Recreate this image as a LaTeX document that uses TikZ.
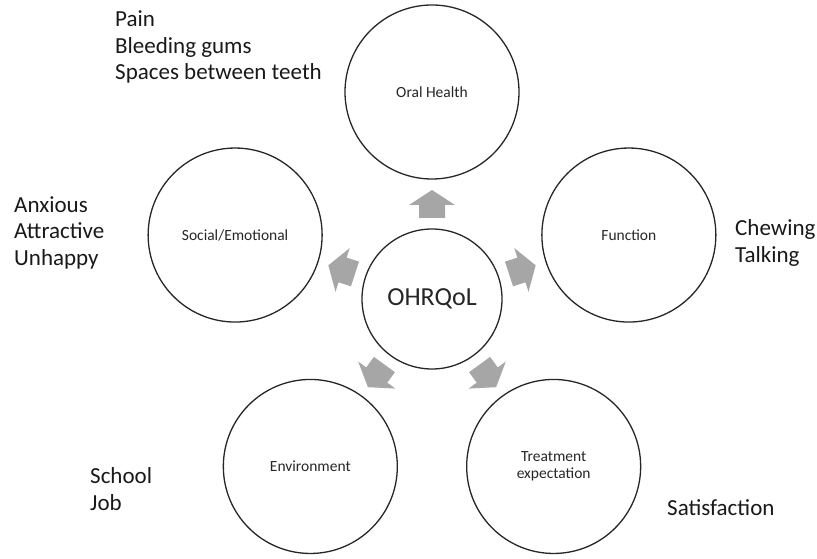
\documentclass[tikz,border=0pt]{standalone}
\usepackage{fontspec}
\setmainfont{Carlito}
\usetikzlibrary{calc}
\begin{document}
\begin{tikzpicture}[x=1pt,y=1pt,
  bigc/.style={circle, draw=black!85, line width=1.3pt, minimum size=174pt, inner sep=0pt, align=center, font=\fontsize{15.5}{17}\selectfont, text=black!85},
  hub/.style={circle, draw=black!85, line width=1.3pt, minimum size=140pt, inner sep=0pt, font=\fontsize{26}{30}\selectfont, text=black!85},
  side/.style={anchor=base west, inner sep=0pt, align=left, font=\fontsize{23}{26.5}\selectfont, text=black!90},
  blockarrow/.style={fill=black!35, draw=none}]
\useasboundingbox (0,0) rectangle (817,558);
\node[hub] (c) at (432,259) {OHRQoL};
\node[bigc] (oh) at ($(c)+(90:207)$) {Oral Health};
\node[bigc] (fn) at ($(c)+(18:207)$) {Function};
\node[bigc] (se) at ($(c)+(162:207)$) {Social/Emotional};
\node[bigc] (te) at ($(c)+(-54:207)$) {Treatment\\expectation};
\node[bigc] (en) at ($(c)+(-126:207)$) {Environment};
\foreach \a in {90,18,162,-54,-126} {
  \begin{scope}[shift={($(c)+(\a:95)$)}, rotate=\a]
    \fill[blockarrow] (-14,-13) -- (-1,-13) -- (-1,-23) -- (14,0) -- (-1,23) -- (-1,13) -- (-14,13) -- cycle;
  \end{scope}
}
\node[side] (l1) at (115,478) {Pain\\Bleeding gums\\Spaces between teeth};
\node[side] (l2) at (14,293) {Anxious\\Attractive\\Unhappy};
\node[side] (l3) at (735,296) {Chewing\\Talking};
\node[side] (l4) at (90,48) {School\\Job};
\node[side] (l5) at (667,43) {Satisfaction};
\end{tikzpicture}
\end{document}
